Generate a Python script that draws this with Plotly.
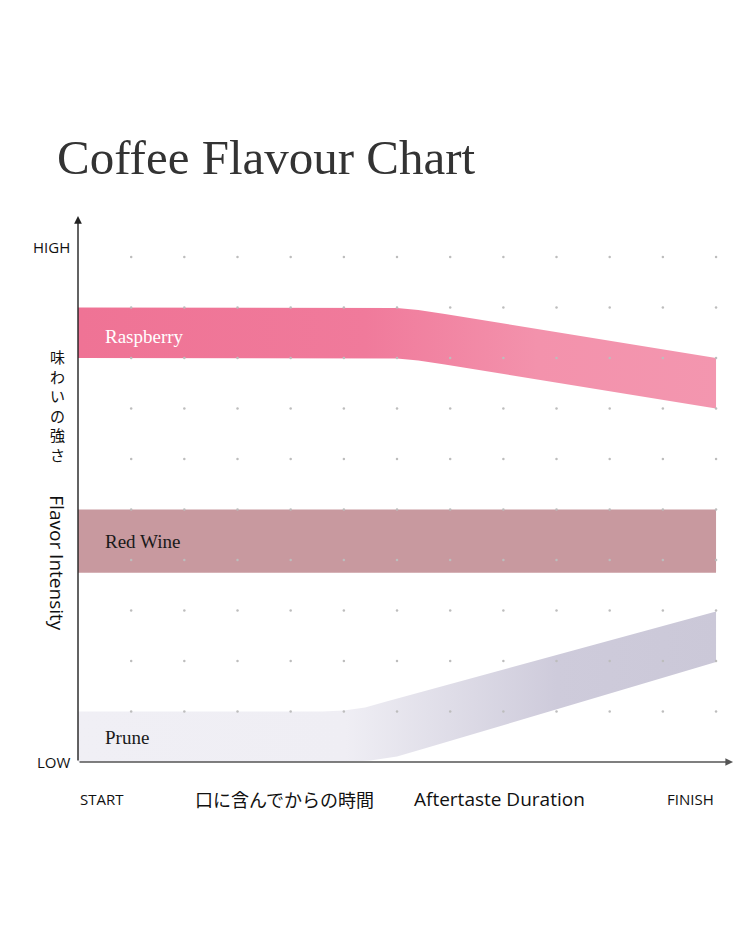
"""Coffee flavour chart: three flavour bands over aftertaste time."""

import plotly.graph_objects as go

# grid (x: time steps, y: intensity steps)
x_ticks = list(range(0, 13))
y_ticks = list(range(0, 11))

# band outlines (knots)
rasp_x = [0, 5.6, 6.0, 6.4, 6.9, 12]
rasp_hi = [9, 9, 8.99, 8.95, 8.87, 8.0]
rasp_lo = [v - 1 for v in rasp_hi]

wine_x = [0, 12]
wine_lo = [3.75, 3.75]
wine_hi = [5, 5]

prune_x_hi = [0, 4.6, 5.0, 5.4, 5.8, 12]
prune_hi = [1, 1, 1.02, 1.08, 1.2, 2.98]
prune_x_lo = [0, 5.0, 5.5, 6.0, 6.5, 12]
prune_lo = [0, 0, 0.03, 0.11, 0.26, 1.98]

band_names = ["Raspberry", "Red Wine", "Prune"]
band_label_y = [8.42, 4.36, 0.48]

SERIF = "Liberation Serif, DejaVu Serif, serif"
SANS = "Open Sans, Noto Sans, sans-serif"
CJK = "Noto Sans CJK JP, sans-serif"

# pixel scale of one grid step, and page offset (browser body margin)
PX_X, PX_Y = 53.17, 50.5
OFF = 8

fig = go.Figure()


def add_band(x_lo, y_lo, x_hi, y_hi, scale):
    fig.add_trace(go.Scatter(
        x=x_lo, y=y_lo, mode="lines", line=dict(width=0),
        hoverinfo="skip", showlegend=False,
    ))
    fig.add_trace(go.Scatter(
        x=x_hi, y=y_hi, mode="lines", line=dict(width=0),
        fill="tonexty",
        fillgradient=dict(type="horizontal", colorscale=scale),
        hoverinfo="skip", showlegend=False,
    ))


add_band(rasp_x, rasp_lo, rasp_x, rasp_hi,
         [[0, "#EF7395"], [0.45, "#F07A9B"], [0.72, "#F392AC"], [1, "#F396AF"]])
add_band(wine_x, wine_lo, wine_x, wine_hi,
         [[0, "#C8999F"], [1, "#C8999F"]])
add_band(prune_x_lo, prune_lo, prune_x_hi, prune_hi,
         [[0, "#F0EFF5"], [0.42, "#EFEEF4"], [0.75, "#CECBDB"], [1, "#CBC8D8"]])

# dotted grid on top
gx = [x for x in x_ticks[1:] for _ in y_ticks[1:]]
gy = [y for _ in x_ticks[1:] for y in y_ticks[1:]]
fig.add_trace(go.Scatter(
    x=gx, y=gy, mode="markers",
    marker=dict(size=2.5, color="#BDBDBD"),
    hoverinfo="skip", showlegend=False,
))

ann = []

# axes with arrows
ann.append(dict(x=0, y=10.81, ax=0, ay=0, axref="x", ayref="y",
                showarrow=True, arrowhead=2, arrowsize=1.1, arrowwidth=1.4,
                arrowcolor="#222", text=""))
ann.append(dict(x=12.32, y=0, ax=0, ay=0, axref="x", ayref="y",
                showarrow=True, arrowhead=2, arrowsize=1.1, arrowwidth=1.4,
                arrowcolor="#555", text=""))

# title
ann.append(dict(x=-0.44, y=11.98, text="Coffee Flavour Chart", showarrow=False,
                xanchor="left", yanchor="middle",
                font=dict(family=SERIF, size=49, color="#333")))

# band labels
for name, yy in zip(band_names, band_label_y):
    ann.append(dict(x=0.47, y=yy, text=name, showarrow=False,
                    xanchor="left", yanchor="middle",
                    font=dict(family=SERIF, size=19,
                              color="white" if name == "Raspberry" else "#1a1a1a")))

# y axis labels
ann.append(dict(x=-0.11, y=10.2, text="HIGH", showarrow=False, xanchor="right",
                font=dict(family=SANS, size=15, color="#111")))
ann.append(dict(x=-0.11, y=0.0, text="LOW", showarrow=False, xanchor="right",
                font=dict(family=SANS, size=15, color="#111")))
# vertical Japanese label, one character per line
ann.append(dict(x=-0.38, y=7.05, text="<br>".join("味わいの強さ"), showarrow=False,
                font=dict(family=CJK, size=15, color="#111")))
ann.append(dict(x=-0.40, y=3.94, text="Flavor Intensity", showarrow=False,
                textangle=90,
                font=dict(family=SANS, size=19, color="#111")))

# x axis labels
ann.append(dict(x=0, y=-0.73, text="START", showarrow=False, xanchor="left",
                font=dict(family=SANS, size=15, color="#111")))
ann.append(dict(x=2.16, y=-0.73, text="口に含んでからの時間", showarrow=False,
                xanchor="left", font=dict(family=CJK, size=18, color="#111")))
ann.append(dict(x=6.28, y=-0.73, text="Aftertaste Duration", showarrow=False,
                xanchor="left", font=dict(family=SANS, size=19, color="#111")))
ann.append(dict(x=12, y=-0.73, text="FINISH", showarrow=False, xanchor="right",
                font=dict(family=SANS, size=15, color="#111")))

x0 = -(78 - OFF) / PX_X
y0 = -(939 - 762 + OFF) / PX_Y
fig.update_layout(
    width=751, height=939,
    margin=dict(l=0, r=0, t=0, b=0),
    paper_bgcolor="white", plot_bgcolor="white",
    xaxis=dict(range=[x0, x0 + 751 / PX_X], visible=False, fixedrange=True),
    yaxis=dict(range=[y0, y0 + 939 / PX_Y], visible=False, fixedrange=True),
    annotations=ann,
)

fig.write_html("out.html")
